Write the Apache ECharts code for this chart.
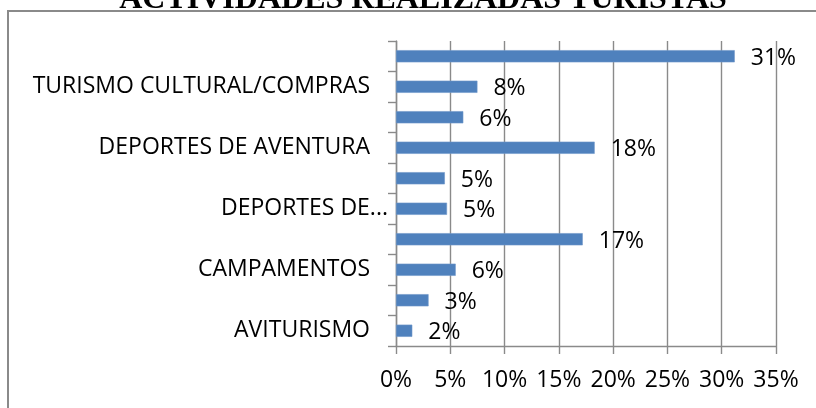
<!DOCTYPE html>
<html>
<head>
<meta charset="utf-8">
<script src="https://cdn.jsdelivr.net/npm/echarts@6/dist/echarts.min.js"></script>
<style>
  html, body { margin: 0; padding: 0; background: #fff; }
  #chart { width: 816px; height: 408px; }
</style>
</head>
<body>
<div id="chart"></div>
<script>
// Activities carried out by tourists (share of responses, %), bottom to top
const categories = [
  'AVITURISMO',
  'CABALGATAS',
  'CAMPAMENTOS',
  'CICLISMO',
  'DEPORTES DE AGUA Y NAVEGACIÓN',
  'DEPORTES DE ALTA MONTAÑA',
  'DEPORTES DE AVENTURA',
  'PESCA DEPORTIVA',
  'TURISMO CULTURAL/COMPRAS',
  'VISITA A PLAYAS'
];
const shares = [1.5, 3.0, 5.5, 17.2, 4.7, 4.5, 18.3, 6.2, 7.5, 31.2];
const xTicks = [0, 5, 10, 15, 20, 25, 30, 35];

const titleText = 'ACTIVIDADES REALIZADAS TURISTAS';
const AXIS_GRAY = '#8a8a8a';
const BAR_BLUE = '#4F81BD';
const LABEL_FONT = '"Open Sans", sans-serif';

// Long category names are cut after their first two words
const MAX_CHARS = 24;
function shortName(name) {
  if (name.length <= MAX_CHARS) return { text: name, cut: false };
  return { text: name.split(' ').slice(0, 2).join(' ') + '...', cut: true };
}

const chart = echarts.init(document.getElementById('chart'), null, { renderer: 'canvas' });

chart.setOption({
  animation: false,
  backgroundColor: '#fff',
  title: {
    text: titleText,
    left: 418,
    top: -21,
    textAlign: 'center',
    textStyle: {
      fontFamily: '"Liberation Serif", serif',
      fontWeight: 'bold',
      fontSize: 32,
      color: '#000'
    }
  },
  graphic: [{
    type: 'rect',
    silent: true,
    shape: { x: 8, y: 11, width: 1000, height: 1000 },
    style: { fill: 'none', stroke: AXIS_GRAY, lineWidth: 2 }
  }],
  grid: { left: 396, right: 40, top: 41, bottom: 62, containLabel: false },
  xAxis: {
    type: 'value',
    min: xTicks[0],
    max: xTicks[xTicks.length - 1],
    interval: 5,
    axisLine: { show: true, lineStyle: { color: AXIS_GRAY, width: 1.4 } },
    axisTick: { show: true, length: 8, inside: false, lineStyle: { color: AXIS_GRAY, width: 1.4 } },
    splitLine: { show: true, lineStyle: { color: AXIS_GRAY, width: 1.4 } },
    axisLabel: {
      margin: 23,
      color: '#000',
      fontFamily: LABEL_FONT,
      fontSize: 23,
      formatter: v => v + '%'
    }
  },
  yAxis: {
    type: 'category',
    data: categories,
    axisLine: { show: true, lineStyle: { color: AXIS_GRAY, width: 1.4 } },
    axisTick: { show: true, length: 8, alignWithLabel: false, interval: 0, lineStyle: { color: AXIS_GRAY, width: 1.4 } },
    splitLine: { show: false },
    axisLabel: {
      interval: 1,
      margin: 8,
      color: '#000',
      fontFamily: LABEL_FONT,
      fontSize: 23,
      formatter: name => {
        const s = shortName(name);
        return s.cut ? '{n|' + s.text + '}' : '{n|' + s.text + '}{gap|}';
      },
      rich: {
        n: { fontFamily: LABEL_FONT, fontSize: 23, color: '#000' },
        gap: { width: 18 }
      }
    }
  },
  series: [{
    type: 'bar',
    data: shares,
    barWidth: '40%',
    itemStyle: { color: BAR_BLUE, borderColor: '#6f97c9', borderWidth: 0.6 },
    label: {
      show: true,
      position: 'right',
      distance: 16,
      offset: [0, 2],
      color: '#000',
      fontFamily: LABEL_FONT,
      fontSize: 23,
      formatter: p => Math.round(p.value) + '%'
    }
  }]
});
</script>
</body>
</html>
